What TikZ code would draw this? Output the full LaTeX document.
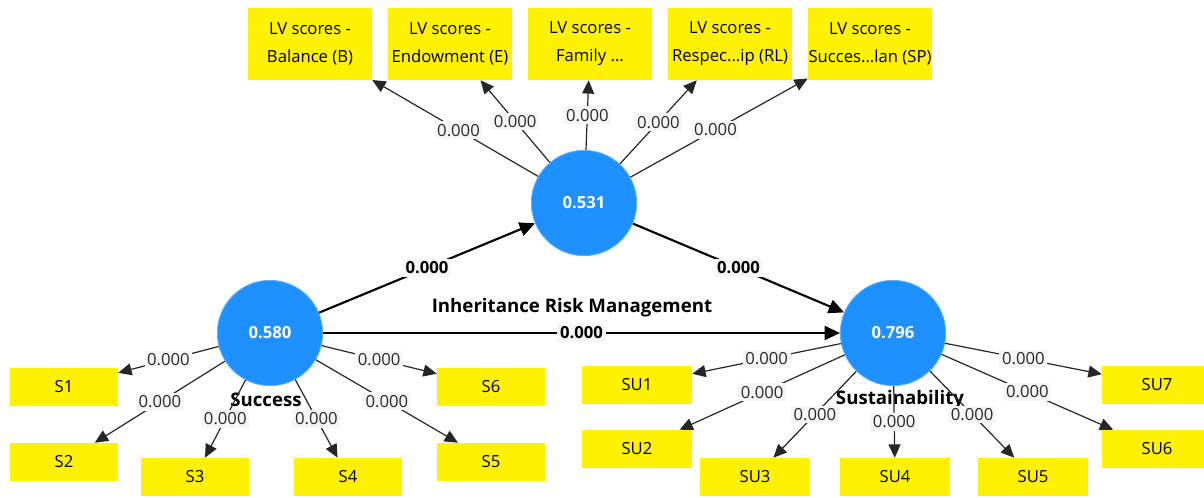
\documentclass[tikz,border=0pt]{standalone}
\usepackage{fontspec}
\setmainfont{Open Sans}
\usetikzlibrary{arrows.meta}
\definecolor{plsblue}{RGB}{30,144,255}
\definecolor{lblbg}{RGB}{246,246,246}
\definecolor{lbltext}{RGB}{40,40,40}
\begin{document}
\begin{tikzpicture}[x=0.75pt,y=-0.75pt,
  lvbox/.style={fill=yellow, minimum width=93pt, minimum height=54pt, inner sep=0pt, align=center, font=\fontsize{12.5}{21}\selectfont},
  indbox/.style={fill=yellow, minimum width=81pt, minimum height=28.5pt, inner sep=0pt, font=\fontsize{12.5}{14}\selectfont},
  subox/.style={indbox, minimum width=82.5pt},
  latent/.style={circle, fill=plsblue, draw=plsblue!70!white, line width=0.6pt, minimum size=79pt, inner sep=0pt, text=white, font=\bfseries\fontsize{12.5}{14}\selectfont},
  loading/.style={draw=black!85, line width=0.9pt, -{Triangle[length=10pt,width=9pt]}},
  path/.style={draw=black, line width=1.6pt, -{Triangle[length=11.5pt,width=10.5pt]}},
  lbl/.style={fill=lblbg, inner sep=2pt, text=lbltext, font=\fontsize{12.5}{14}\selectfont},
  blbl/.style={fill=lblbg, inner sep=2pt, text=black, font=\bfseries\fontsize{12.5}{14}\selectfont},
  lvname/.style={font=\bfseries\fontsize{14}{16}\selectfont, inner sep=0pt}
]
\useasboundingbox (0,0) rectangle (1204,497);
\fill[white] (0,0) rectangle (1204,497);

% latent variables
\node[latent] (M) at (584,203) {0.531};
\node[latent] (Succ) at (270,333) {0.580};
\node[latent] (Sust) at (893,333) {0.796};

% top indicator boxes
\node[lvbox] (B)  at (310,44) {LV scores -\\Balance (B)};
\node[lvbox] (E)  at (450,44) {LV scores -\\Endowment (E)};
\node[lvbox] (F)  at (590,44) {LV scores -\\Family ...};
\node[lvbox] (RL) at (730,44) {LV scores -\\Respec...ip (RL)};
\node[lvbox] (SP) at (870,44) {LV scores -\\Succes...lan (SP)};

% success indicators
\node[indbox] (S1) at (64,387) {S1};
\node[indbox] (S2) at (64,462) {S2};
\node[indbox] (S3) at (195,477) {S3};
\node[indbox] (S4) at (348,477) {S4};
\node[indbox] (S5) at (491,462) {S5};
\node[indbox] (S6) at (491,387) {S6};

% sustainability indicators
\node[subox] (SU1) at (637,385) {SU1};
\node[subox] (SU2) at (637,449) {SU2};
\node[subox] (SU3) at (755,477) {SU3};
\node[subox] (SU4) at (895,477) {SU4};
\node[subox] (SU5) at (1033,477) {SU5};
\node[subox] (SU6) at (1157,449) {SU6};
\node[subox] (SU7) at (1157,385) {SU7};

% latent names
\node[lvname] (nIRM) at (572,308) {Inheritance Risk Management};
\node[lvname] (nS) at (266,400) {Success};
\node[lvname] (nSU) at (900,400) {Sustainability};

% loadings of the mediator
\draw[loading] (M) -- node[lbl,pos=0.48] {0.000} (B);
\draw[loading] (M) -- node[lbl,pos=0.5] {0.000} (E);
\draw[loading] (M) -- node[lbl,pos=0.5] {0.000} (F);
\draw[loading] (M) -- node[lbl,pos=0.5] {0.000} (RL);
\draw[loading] (M) -- node[lbl,pos=0.48] {0.000} (SP);

% loadings of success
\draw[loading] (Succ) -- node[lbl,pos=0.5] {0.000} (S1);
\draw[loading] (Succ) -- node[lbl,pos=0.5] {0.000} (S2);
\draw[loading] (Succ) -- node[lbl,pos=0.5] {0.000} (S3);
\draw[loading] (Succ) -- node[lbl,pos=0.5] {0.000} (S4);
\draw[loading] (Succ) -- node[lbl,pos=0.5] {0.000} (S5);
\draw[loading] (Succ) -- node[lbl,pos=0.5] {0.000} (S6);

% loadings of sustainability
\draw[loading] (Sust) -- node[lbl,pos=0.5] {0.000} (SU1);
\draw[loading] (Sust) -- node[lbl,pos=0.5] {0.000} (SU2);
\draw[loading] (Sust) -- node[lbl,pos=0.5] {0.000} (SU3);
\draw[loading] (Sust) -- node[lbl,pos=0.5] {0.000} (SU4);
\draw[loading] (Sust) -- node[lbl,pos=0.5] {0.000} (SU5);
\draw[loading] (Sust) -- node[lbl,pos=0.5] {0.000} (SU6);
\draw[loading] (Sust) -- node[lbl,pos=0.5] {0.000} (SU7);

% structural paths
\draw[path] (Succ) -- node[blbl,pos=0.5] {0.000} (M);
\draw[path] (M) -- node[blbl,pos=0.5] {0.000} (Sust);
\draw[path] (Succ) -- node[blbl,pos=0.5] {0.000} (Sust);
\end{tikzpicture}
\end{document}
